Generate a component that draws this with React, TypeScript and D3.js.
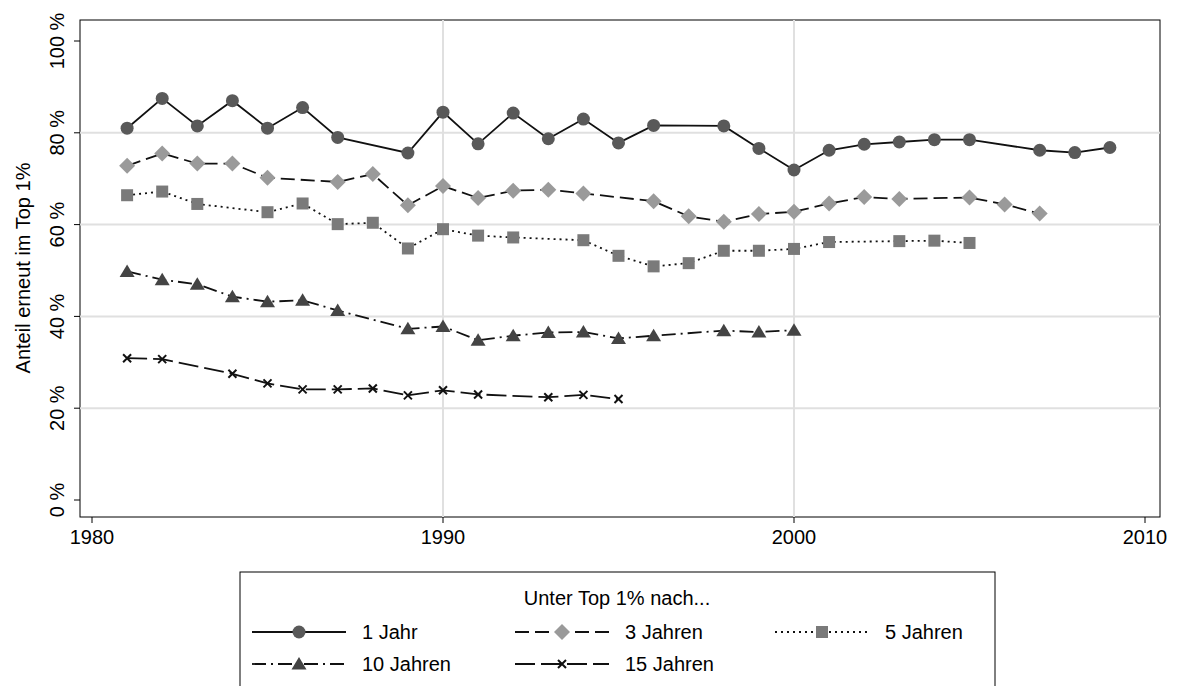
import React from 'react';
import * as d3 from 'd3';

const years1 = [1981,1982,1983,1984,1985,1986,1987,1989,1990,1991,1992,1993,1994,1995,1996,1998,1999,2000,2001,2002,2003,2004,2005,2007,2008,2009];
const vals1 = [81,87.5,81.5,87,81,85.5,79,75.6,84.5,77.6,84.3,78.7,83,77.8,81.6,81.5,76.6,71.9,76.2,77.5,78,78.5,78.5,76.2,75.7,76.8];
const years3 = [1981,1982,1983,1984,1985,1987,1988,1989,1990,1991,1992,1993,1994,1996,1997,1998,1999,2000,2001,2002,2003,2005,2006,2007];
const vals3 = [72.8,75.5,73.3,73.3,70.2,69.3,71,64.2,68.4,65.8,67.4,67.6,66.8,65.1,61.8,60.6,62.3,62.8,64.6,66,65.6,65.9,64.4,62.4];
const years5 = [1981,1982,1983,1985,1986,1987,1988,1989,1990,1991,1992,1994,1995,1996,1997,1998,1999,2000,2001,2003,2004,2005];
const vals5 = [66.4,67.2,64.5,62.7,64.6,60.1,60.4,54.8,59,57.6,57.2,56.6,53.2,50.9,51.6,54.3,54.3,54.7,56.2,56.4,56.5,56];
const years10 = [1981,1982,1983,1984,1985,1986,1987,1989,1990,1991,1992,1993,1994,1995,1996,1998,1999,2000];
const vals10 = [49.8,48,47,44.3,43.2,43.5,41.3,37.3,37.8,34.8,35.8,36.5,36.6,35.2,35.8,36.9,36.6,37];
const years15 = [1981,1982,1984,1985,1986,1987,1988,1989,1990,1991,1993,1994,1995];
const vals15 = [30.9,30.7,27.5,25.4,24.1,24.1,24.3,22.8,23.9,23,22.4,22.9,22];
const xTicks = [1980, 1990, 2000, 2010];
const yTicks = [0, 20, 40, 60, 80, 100];

const series = [
  { name: '1 Jahr', years: years1, vals: vals1, dash: '', marker: 'circle', color: '#595959' },
  { name: '3 Jahren', years: years3, vals: vals3, dash: '14,6', marker: 'diamond', color: '#9a9a9a' },
  { name: '5 Jahren', years: years5, vals: vals5, dash: '2,4', marker: 'square', color: '#7a7a7a' },
  { name: '10 Jahren', years: years10, vals: vals10, dash: '14,5,2,5', marker: 'triangle', color: '#444' },
  { name: '15 Jahren', years: years15, vals: vals15, dash: '20,6', marker: 'cross', color: '#111' },
];

const font = '"Liberation Sans", Arial, sans-serif';

const Marker = ({ type, x, y, color }: { type: string; x: number; y: number; color: string }) => {
  if (type === 'circle') return <circle cx={x} cy={y} r={6.5} fill={color} />;
  if (type === 'diamond') return <path d={`M${x},${y - 8}L${x + 8},${y}L${x},${y + 8}L${x - 8},${y}Z`} fill={color} />;
  if (type === 'square') return <rect x={x - 6} y={y - 6} width={12} height={12} fill={color} />;
  if (type === 'triangle') return <path d={`M${x},${y - 7}L${x + 7.5},${y + 5.5}L${x - 7.5},${y + 5.5}Z`} fill={color} />;
  return <path d={`M${x - 4},${y - 4}L${x + 4},${y + 4}M${x - 4},${y + 4}L${x + 4},${y - 4}`} stroke={color} strokeWidth={2} />;
};

export default function App() {
  const W = 1179, H = 686;
  const x = d3.scaleLinear().domain([1980, 2010]).range([92, 1145]);
  const y = d3.scaleLinear().domain([0, 100]).range([500, 41]);
  const line = d3.line<[number, number]>().x(d => x(d[0])).y(d => y(d[1]));

  const legendItems = [
    { s: series[0], lx: 252, ly: 632 },
    { s: series[1], lx: 515, ly: 632 },
    { s: series[2], lx: 775, ly: 632 },
    { s: series[3], lx: 252, ly: 664 },
    { s: series[4], lx: 515, ly: 664 },
  ];

  return (
    <svg width={W} height={H} style={{ position: 'absolute', left: 0, top: 0, background: '#fff' }} fontFamily={font}>
      <rect x={80} y={20} width={1080} height={497} fill="none" stroke="#000" strokeWidth={1} />
      {yTicks.map(t => (
        <g key={t}>
          {t > 0 && t < 100 && <line x1={80} x2={1160} y1={y(t)} y2={y(t)} stroke="#e0e0e0" strokeWidth={2} />}
          <line x1={74} x2={80} y1={y(t)} y2={y(t)} stroke="#000" />
          <text transform={`translate(64,${y(t)}) rotate(-90)`} textAnchor="middle" fontSize={20}>{t} %</text>
        </g>
      ))}
      {xTicks.map(t => (
        <g key={t}>
          {t > 1980 && t < 2010 && <line x1={x(t)} x2={x(t)} y1={20} y2={517} stroke="#e0e0e0" strokeWidth={2} />}
          <line x1={x(t)} x2={x(t)} y1={517} y2={523} stroke="#000" />
          <text x={x(t)} y={544} textAnchor="middle" fontSize={20}>{t}</text>
        </g>
      ))}
      <text transform="translate(30,268) rotate(-90)" textAnchor="middle" fontSize={20}>Anteil erneut im Top 1%</text>
      {series.map(s => {
        const pts = s.years.map((yr, i) => [yr, s.vals[i]] as [number, number]);
        return (
          <g key={s.name}>
            <path d={line(pts) || ''} fill="none" stroke="#111" strokeWidth={1.8} strokeDasharray={s.dash} />
            {pts.map((p, i) => <Marker key={i} type={s.marker} x={x(p[0])} y={y(p[1])} color={s.color} />)}
          </g>
        );
      })}
      <rect x={240} y={572} width={755} height={120} fill="#fff" stroke="#000" />
      <text x={617} y={605} textAnchor="middle" fontSize={20}>Unter Top 1% nach...</text>
      {legendItems.map(({ s, lx, ly }) => (
        <g key={s.name}>
          <line x1={lx} x2={lx + 94} y1={ly} y2={ly} stroke="#111" strokeWidth={1.8} strokeDasharray={s.dash} />
          <Marker type={s.marker} x={lx + 47} y={ly} color={s.color} />
          <text x={lx + 110} y={ly + 7} fontSize={20}>{s.name}</text>
        </g>
      ))}
    </svg>
  );
}
